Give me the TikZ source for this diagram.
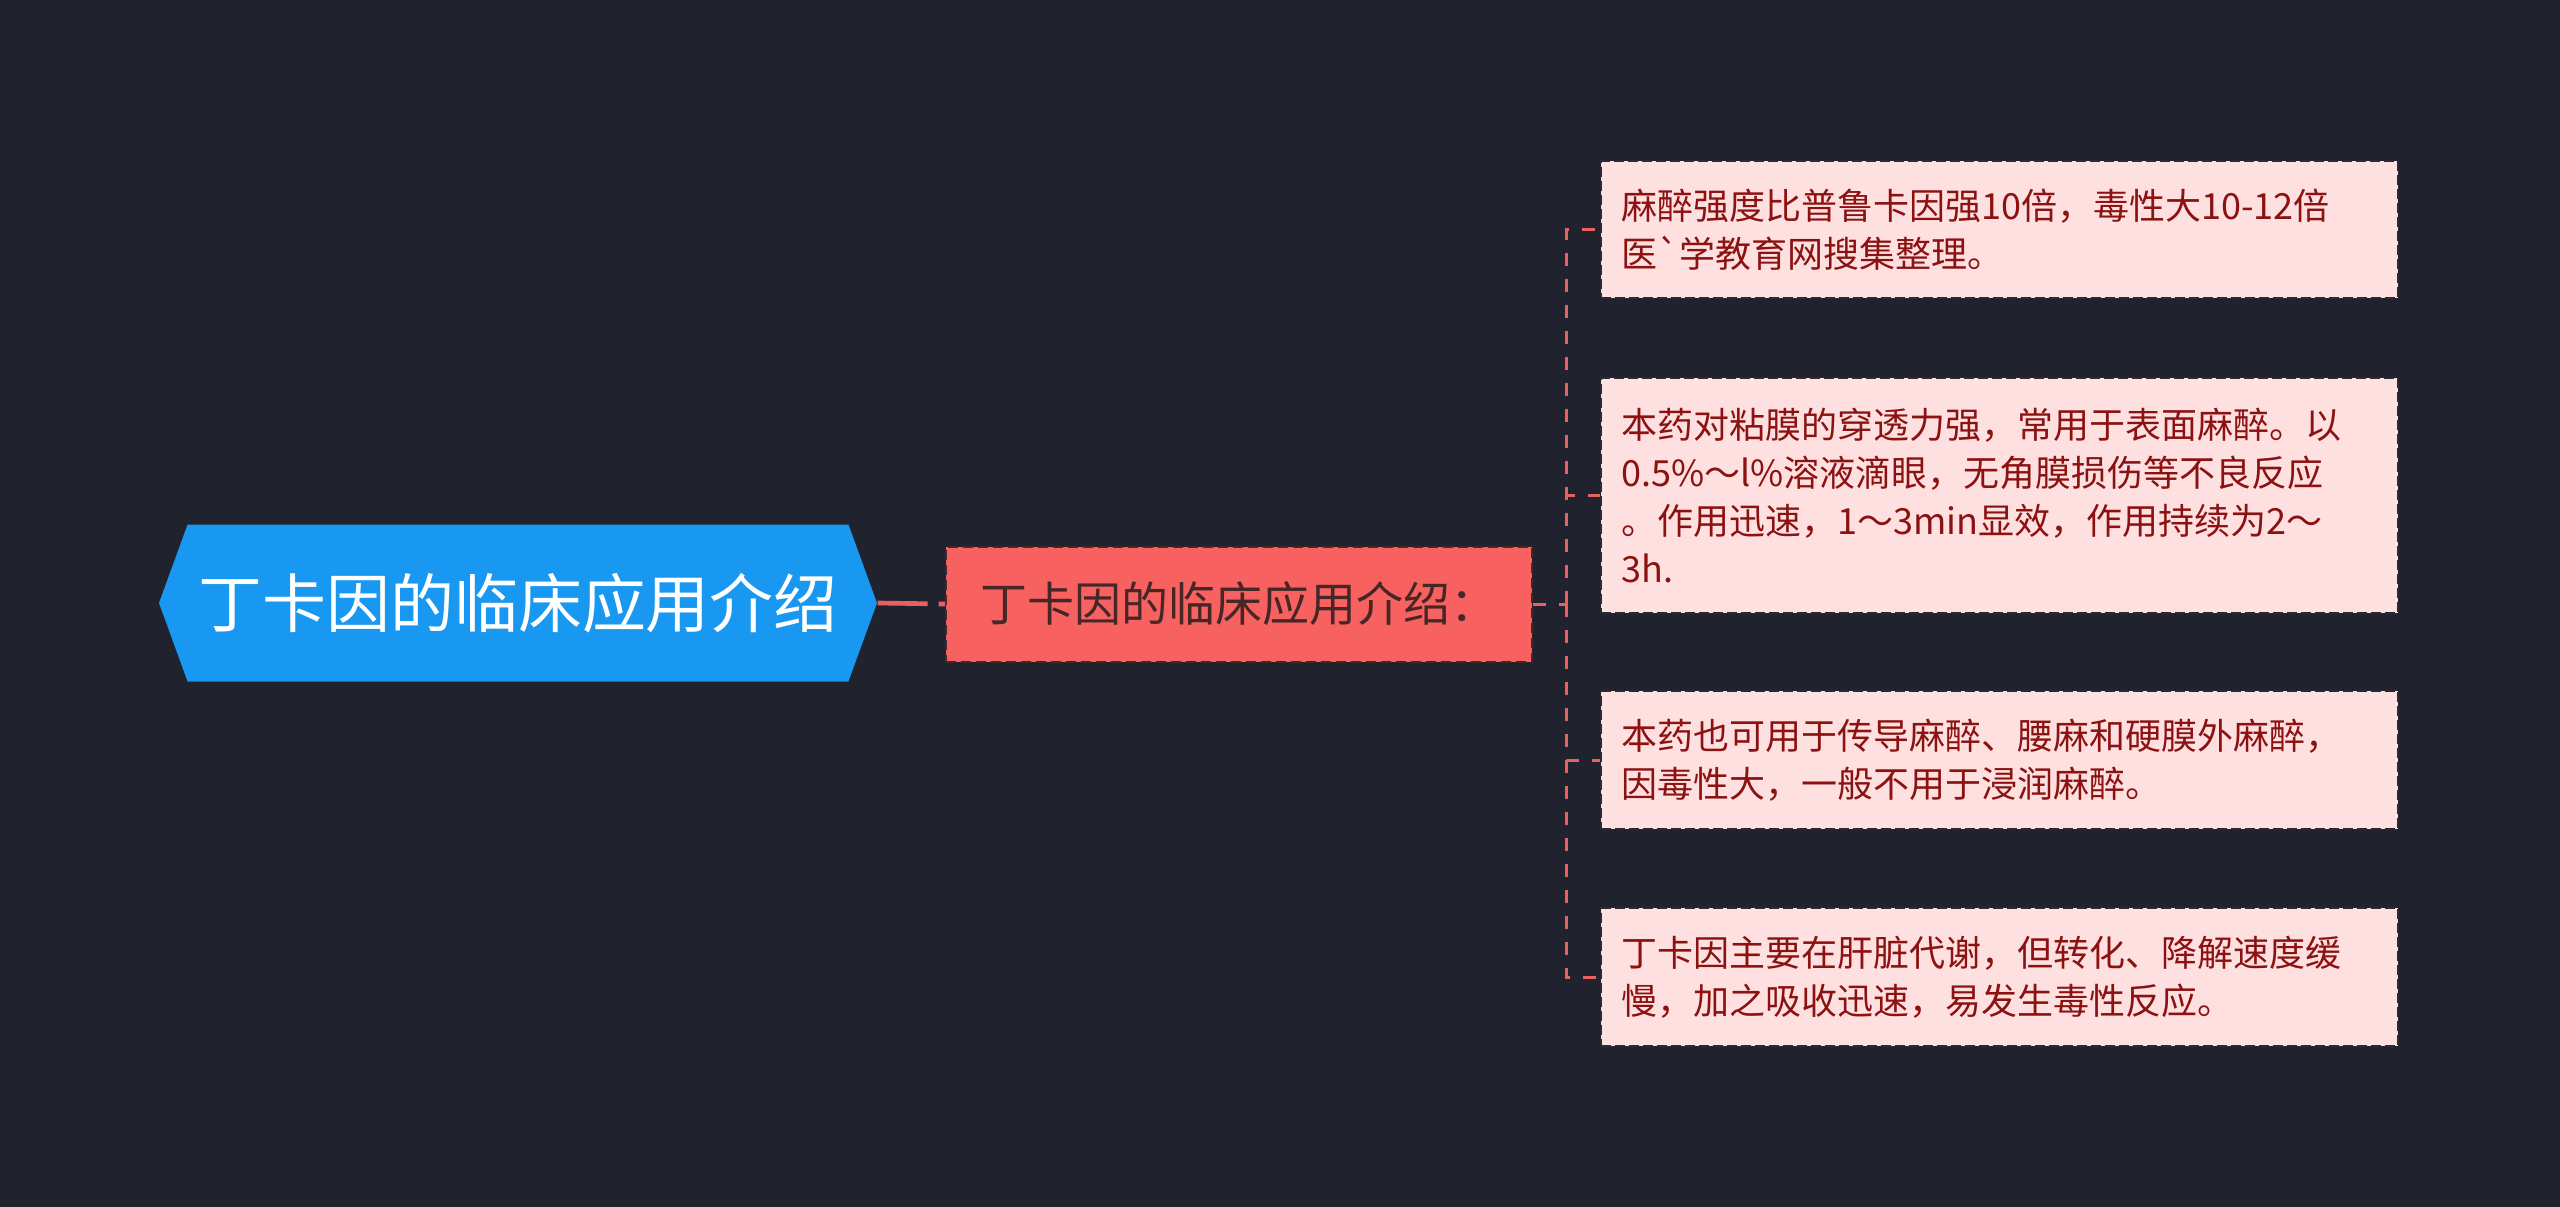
\documentclass[tikz,border=0pt]{standalone}
\usepackage{fontspec}
\setmainfont{Noto Sans CJK SC}[Ligatures=TeXOff]
\usetikzlibrary{shapes.symbols}
\definecolor{bgdark}{RGB}{32,35,46}
\definecolor{rootblue}{RGB}{24,152,240}
\definecolor{childred}{RGB}{247,97,95}
\definecolor{childtext}{RGB}{70,38,38}
\definecolor{leafpink}{RGB}{255,224,224}
\definecolor{leafline}{RGB}{40,42,54}
\definecolor{leaftext}{RGB}{140,18,18}
\definecolor{linkred}{RGB}{234,96,96}
\tikzset{
  rootnode/.style={shape=signal, signal to=west and east, signal pointer angle=140,
    fill=rootblue, text=white, minimum width=215.4pt, minimum height=47.1pt,
    inner sep=0pt, font=\fontsize{19.2pt}{23pt}\selectfont},
  childnode/.style={draw=childtext, dash pattern=on 3pt off 1.5pt, line width=0.6pt,
    fill=childred, text=childtext, minimum width=175.8pt, minimum height=34.5pt,
    inner sep=0pt, font=\fontsize{14.1pt}{17pt}\selectfont},
  leafnode/.style={draw=leafline, dash pattern=on 3pt off 1.2pt, line width=0.6pt,
    fill=leafpink, text=leaftext, text width=227pt, inner xsep=6pt, inner ysep=0pt,
    align=left, font=\fontsize{10.8pt}{14.4pt}\selectfont},
  link/.style={draw=linkred, line width=0.9pt, dash pattern=on 3.9pt off 3.9pt},
  rootlink/.style={draw=linkred, line width=1.4pt, dash pattern=on 15pt off 3.3pt}
}
\begin{document}
\begin{tikzpicture}[x=0.3pt, y=-0.3pt]
  \fill[bgdark] (0,0) rectangle (2560,1207);
  \useasboundingbox (0,0) rectangle (2560,1207);
  % main topic and its one branch
  \node[rootnode] (root) at (518,603) {丁卡因的临床应用介绍};
  \node[childnode] (child) at (1239,604) {丁卡因的临床应用介绍：};
  \draw[rootlink] (root.east) -- (child.west);
  % leaves
  \node[leafnode, minimum height=41.1pt] (leafa) at (1999.5,229.5)
    {麻醉强度比普鲁卡因强10倍，毒性大10-12倍\\医`学教育网搜集整理。};
  \node[leafnode, minimum height=70.5pt] (leafb) at (1999.5,495.5)
    {本药对粘膜的穿透力强，常用于表面麻醉。以\\0.5\%～l\%溶液滴眼，无角膜损伤等不良反应\\。作用迅速，1～3min显效，作用持续为2～\\3h.};
  \node[leafnode, minimum height=41.4pt] (leafc) at (1999.5,760)
    {本药也可用于传导麻醉、腰麻和硬膜外麻醉，\\因毒性大，一般不用于浸润麻醉。};
  \node[leafnode, minimum height=41.4pt] (leafd) at (1999.5,977)
    {丁卡因主要在肝脏代谢，但转化、降解速度缓\\慢，加之吸收迅速，易发生毒性反应。};
  \coordinate (trunk) at (1566,604);
  \draw[link] (child.east) -- (trunk);
  \foreach \leaf in {leafa,leafb,leafc,leafd}
    \draw[link] (trunk) |- (\leaf.west);
\end{tikzpicture}
\end{document}
